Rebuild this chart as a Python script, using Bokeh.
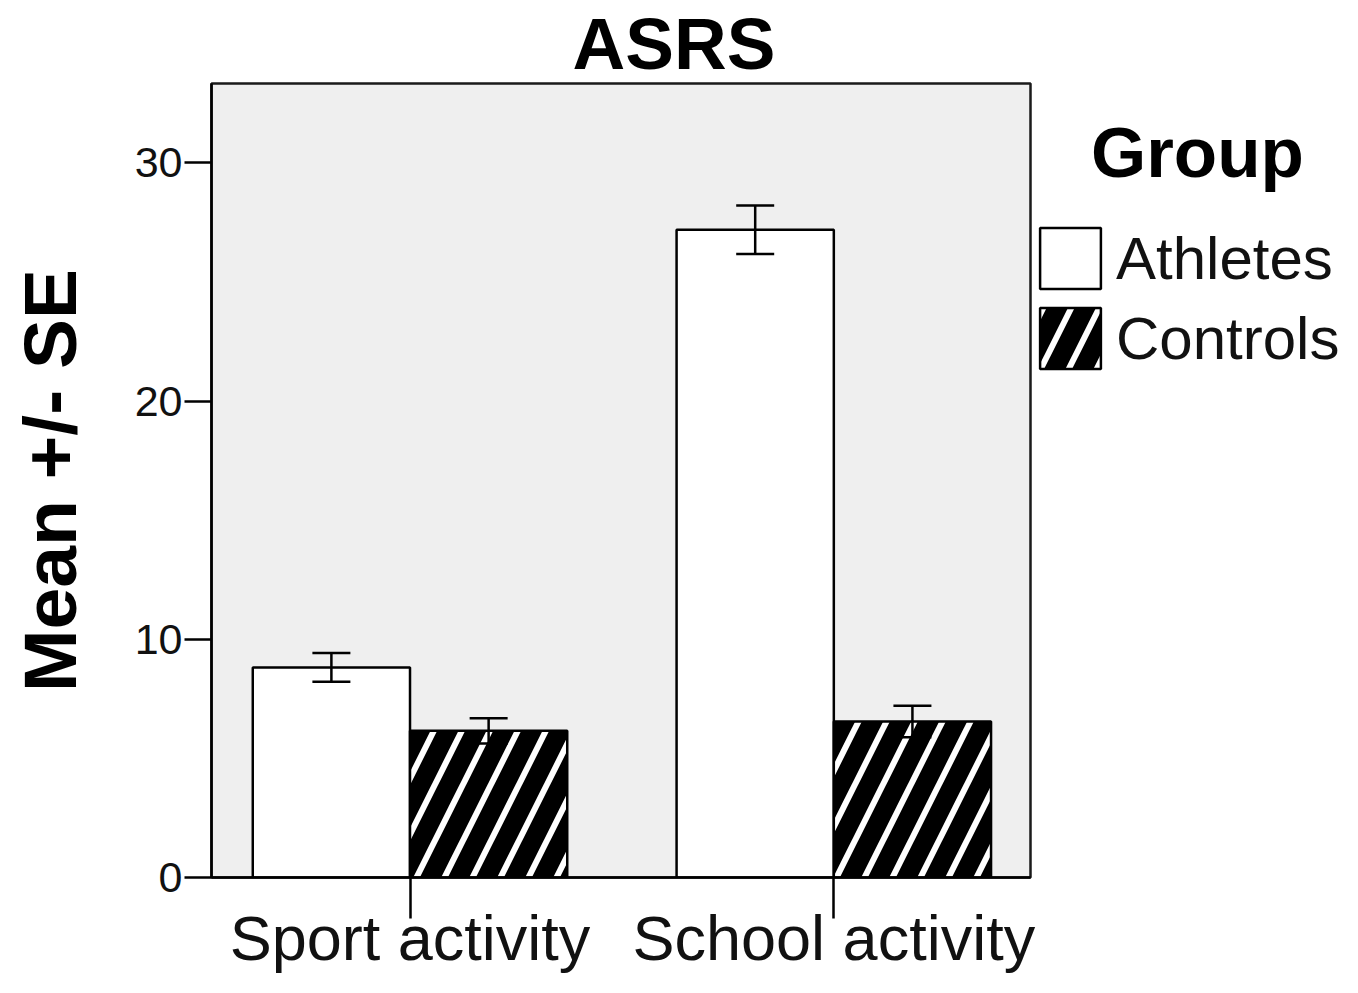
from bokeh.plotting import figure
from bokeh.layouts import row
from bokeh.models import (ColumnDataSource, Whisker, TeeHead, FixedTicker, Legend,
                          LegendItem, Range1d, Label)
from bokeh.embed import file_html
from bokeh.resources import INLINE

# ---- data ----
categories = ["Sport activity", "School activity"]
groups = ["Athletes", "Controls"]
athletes_mean = [8.82, 27.19]
athletes_se = [0.60, 1.02]
controls_mean = [6.16, 6.55]
controls_se = [0.53, 0.66]
y_ticks = [0, 10, 20, 30]
title_text = "ASRS"
legend_title = "Group"
y_label = "Mean +/- SE"

FONT = "Liberation Sans"
BAR_W = 0.371
cat_pos = [i + 1 for i in range(len(categories))]

ath_x = [c - BAR_W / 2 for c in cat_pos]
ctl_x = [c + BAR_W / 2 for c in cat_pos]

src_a = ColumnDataSource(dict(x=ath_x, top=athletes_mean,
                              upper=[m + s for m, s in zip(athletes_mean, athletes_se)],
                              lower=[m - s for m, s in zip(athletes_mean, athletes_se)]))
src_c = ColumnDataSource(dict(x=ctl_x, top=controls_mean,
                              upper=[m + s for m, s in zip(controls_mean, controls_se)],
                              lower=[m - s for m, s in zip(controls_mean, controls_se)]))

bar_a_style = dict(fill_color="white", line_color="black", line_width=2.5)
bar_c_style = dict(fill_color="black", line_color="black", line_width=2.5,
                   hatch_pattern="/", hatch_color="white", hatch_scale=56, hatch_weight=6)

P_W = 1036
p = figure(width=P_W, height=977,
           x_range=Range1d(0.5316, 2.4641), y_range=Range1d(0, 33.33),
           output_backend="svg", toolbar_location=None,
           min_border_left=211, min_border_right=6, min_border_top=83, min_border_bottom=100)

p.title.text = title_text
p.title.text_font = FONT
p.title.text_font_size = "73px"
p.title.text_font_style = "bold"
p.title.text_color = "black"
p.title.align = "left"
p.title.offset = 361
p.title.standoff = 0

p.background_fill_color = "#efefef"
p.border_fill_color = "white"
p.outline_line_color = "#1a1a1a"
p.outline_line_width = 2.5
p.xgrid.visible = False
p.ygrid.visible = False

r_a = p.vbar(x="x", top="top", bottom=0, width=BAR_W, source=src_a, **bar_a_style)
r_c = p.vbar(x="x", top="top", bottom=0, width=BAR_W, source=src_c, **bar_c_style)

for src in (src_a, src_c):
    w = Whisker(base="x", upper="upper", lower="lower", source=src, dimension="height",
                line_color="black", line_width=2.5,
                upper_head=TeeHead(size=38, line_width=2.5, line_color="black"),
                lower_head=TeeHead(size=38, line_width=2.5, line_color="black"))
    w.level = "annotation"
    p.add_layout(w)

# y axis
ya = p.yaxis[0]
ya.ticker = FixedTicker(ticks=y_ticks)
ya.minor_tick_line_color = None
ya.major_tick_in = 0
ya.major_tick_out = 27
ya.major_tick_line_width = 2.5
ya.major_tick_line_color = "black"
ya.axis_line_color = "black"
ya.axis_line_width = 2.5
ya.major_label_text_font = FONT
ya.major_label_text_font_size = "43px"
ya.major_label_text_color = "#111111"
ya.major_label_standoff = 2
ya.axis_label = y_label
ya.axis_label_text_font = FONT
ya.axis_label_text_font_size = "75px"
ya.axis_label_text_font_style = "bold"
ya.axis_label_text_color = "black"
ya.axis_label_standoff = 40

# x axis
xa = p.xaxis[0]
xa.ticker = FixedTicker(ticks=cat_pos)
xa.major_label_overrides = {c: lab for c, lab in zip(cat_pos, categories)}
xa.minor_tick_line_color = None
xa.major_tick_in = 0
xa.major_tick_out = 41
xa.major_tick_line_width = 2.5
xa.major_tick_line_color = "black"
xa.axis_line_color = "black"
xa.axis_line_width = 2.5
xa.major_label_text_font = FONT
xa.major_label_text_font_size = "63px"
xa.major_label_text_color = "#111111"
xa.major_label_standoff = -16

# ---- legend panel (separate figure to the right, same vertical frame) ----
Q_W = 1342 - P_W
q = figure(width=Q_W, height=977, x_range=Range1d(P_W, 1342), y_range=Range1d(0, 33.33),
           output_backend="svg", toolbar_location=None,
           x_axis_location=None, y_axis_location=None,
           min_border_left=0, min_border_right=0, min_border_top=83, min_border_bottom=100)
q.outline_line_color = None
q.background_fill_color = "white"
q.border_fill_color = "white"
q.xgrid.visible = False
q.ygrid.visible = False

# hidden legend proxies (same data and styles as the bars)
la = q.vbar(x="x", top="top", bottom=0, width=BAR_W, source=src_a, visible=False, **bar_a_style)
lc = q.vbar(x="x", top="top", bottom=0, width=BAR_W, source=src_c, visible=False, **bar_c_style)

q.add_layout(Label(x=1197, y=30.45, text=legend_title, text_font=FONT,
                   text_font_size="71px", text_font_style="bold", text_color="black",
                   text_align="center", text_baseline="alphabetic"))

legend = Legend(items=[LegendItem(label=groups[0], renderers=[la]),
                       LegendItem(label=groups[1], renderers=[lc])],
                location=(-4, 501), padding=0, margin=0, spacing=4,
                glyph_width=76, glyph_height=76, label_height=62, label_standoff=8,
                label_text_font=FONT, label_text_font_size="60px", label_text_color="#111111",
                border_line_alpha=0, background_fill_alpha=0,
                inactive_fill_alpha=0)
q.add_layout(legend, "center")

layout = row(p, q, spacing=0)
open("out.html", "w").write(file_html(layout, INLINE))
